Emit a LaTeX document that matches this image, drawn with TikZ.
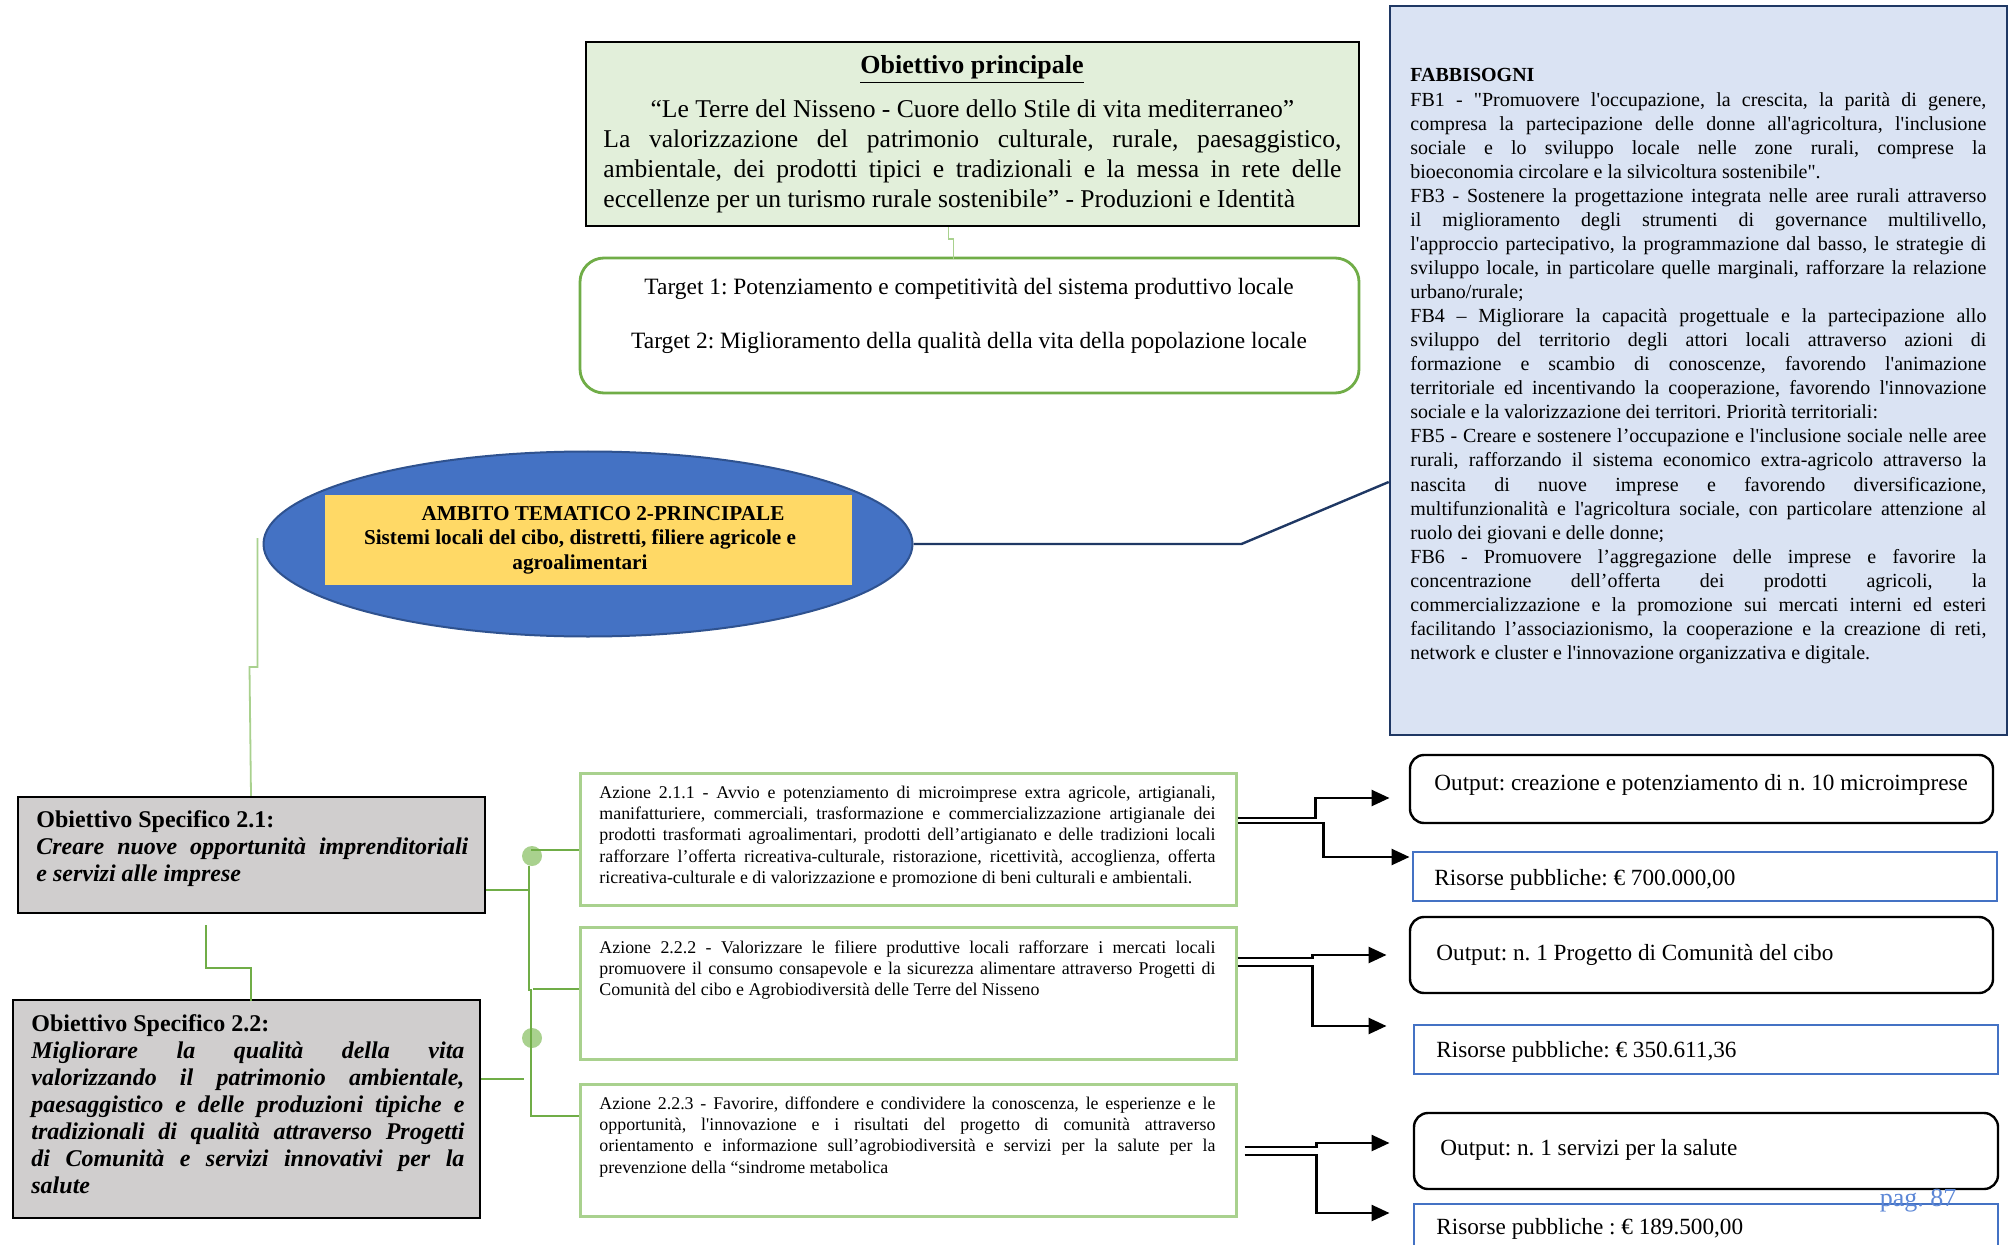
\documentclass[tikz,border=0pt]{standalone}
\usepackage{fontspec}
\setmainfont{Liberation Serif}[Ligatures=TeXOff]
\usetikzlibrary{fit,shapes.geometric,arrows.meta,calc}

\definecolor{mainfill}{HTML}{E2EFDA}
\definecolor{fbfill}{HTML}{DAE3F3}
\definecolor{navy}{HTML}{1F3864}
\definecolor{ellfill}{HTML}{4472C4}
\definecolor{elldraw}{HTML}{2F528F}
\definecolor{yel}{HTML}{FFD966}
\definecolor{grayfill}{HTML}{D0CECE}
\definecolor{gdark}{HTML}{70AD47}
\definecolor{glight}{HTML}{A9D18E}
\definecolor{blu}{HTML}{4472C4}
\definecolor{pagblue}{HTML}{5B86D6}

\newcommand\jline[1]{\makebox[\linewidth][s]{#1}\par}
\newcommand\fsz[2]{\fontsize{#1}{#2}\selectfont}
\frenchspacing

\begin{document}
\begin{tikzpicture}[x=0.5pt,y=-0.5pt,
  txt/.style={inner sep=0pt, anchor=base west},
  ctxt/.style={inner sep=0pt, anchor=base},
  frame/.style={inner sep=0pt},
  azbox/.style={frame, draw=glight, line width=1.5pt},
  outbox/.style={frame, draw=black, line width=1.2pt, rounded corners=7pt},
  risbox/.style={frame, draw=blu, line width=1pt},
  osbox/.style={frame, draw=black, line width=1.2pt, fill=grayfill},
  arr/.style={line width=1.3pt, -{Triangle[length=9pt,width=8pt]}},
  gline/.style={gdark, line width=0.9pt},
  lgline/.style={glight, line width=0.9pt},
  dot/.style={circle, fill=glight, minimum size=10pt, inner sep=0pt}
]
\fill[white] (0,0) rectangle (2016,1245);
\useasboundingbox (0,0) rectangle (2016,1245);

% ---------- main objective
\node[frame, draw=black, line width=1.3pt, fill=mainfill, fit={(586,42) (1359,226)}] (main) {};
\node[ctxt] (maintitle) at (972,74) {\fsz{13}{15}\bfseries\underline{Obiettivo principale}};
\node[txt] (maintext) at (603,118) {\begin{minipage}[t]{369pt}\fsz{12.8}{15}%
\makebox[\linewidth][c]{“Le Terre del Nisseno - Cuore dello Stile di vita mediterraneo”}\par
\jline{La valorizzazione del patrimonio culturale, rurale, paesaggistico,}
\jline{ambientale, dei prodotti tipici e tradizionali e la messa in rete delle}
eccellenze per un turismo rurale sostenibile” - Produzioni e Identità\par
\end{minipage}};

% ---------- targets
\node[frame, draw=gdark, line width=1.4pt, rounded corners=12pt, fit={(580,258) (1359,393)}] (target) {};
\node[ctxt] (t1) at (969,295) {\fsz{11.7}{13}Target 1: Potenziamento e competitività del sistema produttivo locale};
\node[ctxt] (t2) at (969,349) {\fsz{11.7}{13}Target 2: Miglioramento della qualità della vita della popolazione locale};
\draw[lgline] ([xshift=-12pt]main.south) -- ++(0,12) -- ++(5,0) -- ++(0,20);

% ---------- fabbisogni
\node[frame, draw=navy, line width=1.3pt, fill=fbfill, fit={(1390,6) (2007,735)}] (fb) {};
\node[txt] (fbtext) at (1410,82) {\begin{minipage}[t]{288pt}\fsz{10}{12.03}%
\textbf{FABBISOGNI}\par
\jline{FB1 - "Promuovere l'occupazione, la crescita, la parità di genere,}
\jline{compresa la partecipazione delle donne all'agricoltura, l'inclusione}
\jline{sociale e lo sviluppo locale nelle zone rurali, comprese la}
bioeconomia circolare e la silvicoltura sostenibile".\par
\jline{FB3 - Sostenere la progettazione integrata nelle aree rurali attraverso}
\jline{il miglioramento degli strumenti di governance multilivello,}
\jline{l'approccio partecipativo, la programmazione dal basso, le strategie di}
\jline{sviluppo locale, in particolare quelle marginali, rafforzare la relazione}
urbano/rurale;\par
\jline{FB4 – Migliorare la capacità progettuale e la partecipazione allo}
\jline{sviluppo del territorio degli attori locali attraverso azioni di}
\jline{formazione e scambio di conoscenze, favorendo l'animazione}
\jline{territoriale ed incentivando la cooperazione, favorendo l'innovazione}
sociale e la valorizzazione dei territori. Priorità territoriali:\par
\jline{FB5 - Creare e sostenere l’occupazione e l'inclusione sociale nelle aree}
\jline{rurali, rafforzando il sistema economico extra-agricolo attraverso la}
\jline{nascita di nuove imprese e favorendo diversificazione,}
\jline{multifunzionalità e l'agricoltura sociale, con particolare attenzione al}
ruolo dei giovani e delle donne;\par
\jline{FB6 - Promuovere l’aggregazione delle imprese e favorire la}
\jline{concentrazione dell’offerta dei prodotti agricoli, la}
\jline{commercializzazione e la promozione sui mercati interni ed esteri}
\jline{facilitando l’associazionismo, la cooperazione e la creazione di reti,}
network e cluster e l'innovazione organizzativa e digitale.\par
\end{minipage}};

% ---------- ambito (ellipse)
\node[ellipse, draw=elldraw, line width=1pt, fill=ellfill, minimum width=324.5pt, minimum height=92.5pt, inner sep=0pt] (ell) at (588,544) {};
\node[frame, fill=yel, fit={(325,495) (852,585)}] (amb) {};
\node[ctxt] (amb1) at (603,520) {\fsz{10.6}{12}\bfseries AMBITO TEMATICO 2-PRINCIPALE};
\node[ctxt] (amb2) at (580,544) {\fsz{10.6}{12}\bfseries Sistemi locali del cibo, distretti, filiere agricole e};
\node[ctxt] (amb3) at (580,569) {\fsz{10.6}{12}\bfseries agroalimentari};
\draw[navy, line width=1.2pt] (ell.east) -- ++(328,0) -- ([yshift=-55.75pt]fb.west);

% ---------- obiettivi specifici
\node[osbox, fit={(18,797) (485,913)}] (os1) {};
\node[txt] (os1text) at (36,827) {\begin{minipage}[t]{216pt}\fsz{12}{13.5}%
\textbf{Obiettivo Specifico 2.1:}\par
\bfseries\itshape
\jline{Creare nuove opportunità imprenditoriali}
e servizi alle imprese\par
\end{minipage}};

\node[osbox, fit={(13,1000) (480,1218)}] (os2) {};
\node[txt] (os2text) at (31,1031) {\begin{minipage}[t]{216.5pt}\fsz{12}{13.5}%
\textbf{Obiettivo Specifico 2.2:}\par
\bfseries\itshape
\jline{Migliorare la qualità della vita}
\jline{valorizzando il patrimonio ambientale,}
\jline{paesaggistico e delle produzioni tipiche e}
\jline{tradizionali di qualità attraverso Progetti}
\jline{di Comunità e servizi innovativi per la}
salute\par
\end{minipage}};

\draw[lgline] ([xshift=-2.5pt,yshift=3pt]ell.west) -- ++(0,129) -- ++(-8,0) -- (os1.north -| 251,0);
\draw[gline] ([xshift=-22.75pt,yshift=-5.5pt]os1.south) -- ++(0,43) -- ++(45,0) -- ++(0,33);

% ---------- azioni
\node[azbox, fit={(580,773) (1236,905)}] (az1) {};
\node[azbox, fit={(580,927) (1236,1059)}] (az2) {};
\node[azbox, fit={(580,1084) (1236,1216)}] (az3) {};

\node[txt] (az1text) at (599,798) {\begin{minipage}[t]{308pt}\fsz{8.95}{10.7}%
\jline{Azione 2.1.1 - Avvio e potenziamento di microimprese extra agricole, artigianali,}
\jline{manifatturiere, commerciali, trasformazione e commercializzazione artigianale dei}
\jline{prodotti trasformati agroalimentari, prodotti dell’artigianato e delle tradizioni locali}
\jline{rafforzare l’offerta ricreativa-culturale, ristorazione, ricettività, accoglienza, offerta}
ricreativa-culturale e di valorizzazione e promozione di beni culturali e ambientali.\par
\end{minipage}};
\node[txt] (az2text) at (599,953) {\begin{minipage}[t]{308pt}\fsz{8.95}{10.7}%
\jline{Azione 2.2.2 - Valorizzare le filiere produttive locali rafforzare i mercati locali}
\jline{promuovere il consumo consapevole e la sicurezza alimentare attraverso Progetti di}
Comunità del cibo e Agrobiodiversità delle Terre del Nisseno\par
\end{minipage}};
\node[txt] (az3text) at (599,1109) {\begin{minipage}[t]{308pt}\fsz{8.95}{10.7}%
\jline{Azione 2.2.3 - Favorire, diffondere e condividere la conoscenza, le esperienze e le}
\jline{opportunità, l'innovazione e i risultati del progetto di comunità attraverso}
\jline{orientamento e informazione sull’agrobiodiversità e servizi per la salute per la}
prevenzione della “sindrome metabolica\par
\end{minipage}};

% ---------- bus
\node[dot] (d1) at (532,856) {};
\node[dot] (d2) at (532,1038) {};
\draw[gline] (d1.south -| 529,0) -- (529,990) -- (531,990) -- (531,1116) -- ([yshift=17pt]az3.west);
\draw[gline] ([yshift=-5.5pt]az1.west) -- ++(-48,0);
\draw[gline] ([yshift=2pt]az2.west) -- ++(-46,0);
\draw[gline] ([yshift=-17.5pt]os1.east) -- (529,890);
\draw[gline] ([yshift=15pt]os2.east) -- ++(43,0);

% ---------- outputs and resources
\node[outbox, fit={(1410,755) (1993,823)}] (out1) {};
\node[txt] (out1text) at (1434,790) {\fsz{11.6}{13}Output: creazione e potenziamento di n. 10 microimprese};
\node[risbox, fit={(1413,852) (1997,901)}] (ris1) {};
\node[txt] (ris1text) at (1434,885) {\fsz{11.6}{13}Risorse pubbliche: € 700.000,00};

\node[outbox, fit={(1410,917) (1993,993)}] (out2) {};
\node[txt] (out2text) at (1436,960) {\fsz{11.6}{13}Output: n. 1 Progetto di Comunità del cibo};
\node[risbox, fit={(1414,1025) (1998,1074)}] (ris2) {};
\node[txt] (ris2text) at (1436,1057) {\fsz{11.6}{13}Risorse pubbliche: € 350.611,36};

\node[outbox, fit={(1414,1113) (1998,1189)}] (out3) {};
\node[txt] (out3text) at (1440,1155) {\fsz{11.6}{13}Output: n. 1 servizi per la salute};
\node[risbox, fit={(1414,1204) (1998,1262)}] (ris3) {};
\node[txt] (ris3text) at (1436,1234) {\fsz{11.6}{13}Risorse pubbliche : € 189.500,00};
\node[ctxt, text=pagblue] (pag) at (1918,1206) {\fsz{13}{14}pag. 87};

% ---------- arrows
\draw[arr] ([yshift=10.5pt]az1.east) -- ++(78,0) -- ++(0,-20) -- ++(74,0);
\draw[arr] ([yshift=8pt]az1.east) -- ++(86,0) -- ++(0,34) -- ++(86,0);
\draw[arr] ([yshift=17.5pt]az2.east) -- ++(75,0) -- ++(0,-3) -- ++(74,0);
\draw[arr] ([yshift=13.5pt]az2.east) -- ++(75,0) -- ++(0,60) -- ++(74,0);
\draw[arr] ([xshift=3.5pt,yshift=1.5pt]az3.east) -- ++(72,0) -- ++(0,-4) -- ++(73,0);
\draw[arr] ([xshift=3.5pt,yshift=-2.5pt]az3.east) -- ++(72,0) -- ++(0,58) -- ++(73,0);
\end{tikzpicture}
\end{document}
